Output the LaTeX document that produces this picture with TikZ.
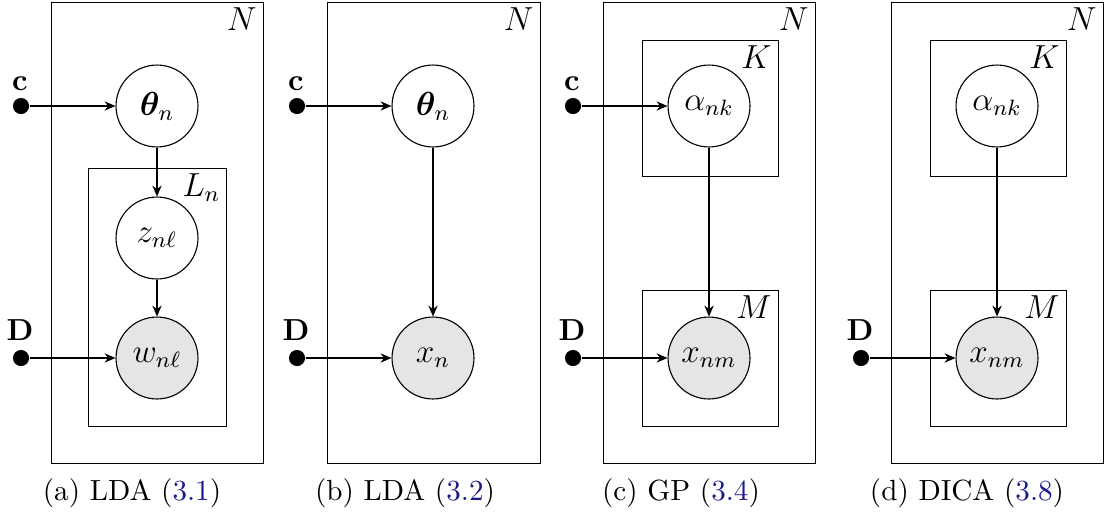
\documentclass[tikz,border=0pt]{standalone}
\usepackage{amsmath}
\usepackage{bm}
\usetikzlibrary{arrows.meta}
\definecolor{refblue}{RGB}{25,25,140}
\definecolor{obsgray}{RGB}{229,229,229}
\begin{document}
\begin{tikzpicture}[x=0.36pt,y=-0.36pt,
 plate/.style={draw, line width=0.35pt},
 latent/.style={circle, draw, minimum size=29.5pt, inner sep=0pt, line width=0.4pt, font=\large},
 obs/.style={latent, fill=obsgray},
 hyper/.style={circle, fill=black, minimum size=5.8pt, inner sep=0pt},
 edge/.style={-{Stealth[length=3.9pt,width=3.3pt]}, line width=0.65pt},
 lbl/.style={inner sep=0pt, anchor=north east, font=\large},
 txt/.style={inner sep=0pt, font=\fontsize{10.6}{12}\selectfont},
 captxt/.style={inner sep=0pt, font=\fontsize{10.5}{12}\selectfont}]
\useasboundingbox (0,0) rectangle (1105,515);

% ---------- (a) ----------
\draw[plate] (51,2) rectangle (263,463);
\node[lbl] (Na) at (257,7) {$N$};
\draw[plate] (88,168) rectangle (226,426);
\node[lbl] (La) at (221,173) {$L_n$};
\node[latent] (tha) at (157,106) {$\bm{\theta}_n$};
\node[latent] (za) at (157,238) {$z_{n\ell}$};
\node[obs] (wa) at (157,358) {$w_{n\ell}$};
\node[hyper] (ca) at (21,106) {};
\node[txt] (cla) at (20,84) {$\mathbf{c}$};
\node[hyper] (Da) at (21,358) {};
\node[txt] (Dla) at (20,330) {$\mathbf{D}$};
\draw[edge] (ca) -- (tha);
\draw[edge] (tha) -- (za);
\draw[edge] (za) -- (wa);
\draw[edge] (Da) -- (wa);
\node[captxt] (capa) at (132,493) {(a) LDA (\textcolor{refblue}{3.1})};

% ---------- (b) ----------
\draw[plate] (327,2) rectangle (540,463);
\node[lbl] (Nb) at (534,7) {$N$};
\node[latent] (thb) at (433,106) {$\bm{\theta}_n$};
\node[obs] (xb) at (433,358) {$x_n$};
\node[hyper] (cb) at (297,106) {};
\node[txt] (clb) at (296,84) {$\mathbf{c}$};
\node[hyper] (Db) at (297,358) {};
\node[txt] (Dlb) at (296,330) {$\mathbf{D}$};
\draw[edge] (cb) -- (thb);
\draw[edge] (thb) -- (xb);
\draw[edge] (Db) -- (xb);
\node[captxt] (capb) at (405,493) {(b) LDA (\textcolor{refblue}{3.2})};

% ---------- (c) ----------
\draw[plate] (603,2) rectangle (815,463);
\node[lbl] (Nc) at (809,7) {$N$};
\draw[plate] (642,40) rectangle (778,176);
\node[lbl] (Kc) at (772,45) {$K$};
\draw[plate] (642,290) rectangle (778,426);
\node[lbl] (Mc) at (772,295) {$M$};
\node[latent] (ac) at (709,106) {$\alpha_{nk}$};
\node[obs] (xc) at (709,358) {$x_{nm}$};
\node[hyper] (cc) at (573,106) {};
\node[txt] (clc) at (572,84) {$\mathbf{c}$};
\node[hyper] (Dc) at (573,358) {};
\node[txt] (Dlc) at (572,330) {$\mathbf{D}$};
\draw[edge] (cc) -- (ac);
\draw[edge] (ac) -- (xc);
\draw[edge] (Dc) -- (xc);
\node[captxt] (capc) at (681,493) {(c) GP (\textcolor{refblue}{3.4})};

% ---------- (d) ----------
\draw[plate] (891,2) rectangle (1103,463);
\node[lbl] (Nd) at (1097,7) {$N$};
\draw[plate] (930,40) rectangle (1066,176);
\node[lbl] (Kd) at (1060,45) {$K$};
\draw[plate] (930,290) rectangle (1066,426);
\node[lbl] (Md) at (1060,295) {$M$};
\node[latent] (ad) at (997,106) {$\alpha_{nk}$};
\node[obs] (xd) at (997,358) {$x_{nm}$};
\node[hyper] (Dd) at (861,358) {};
\node[txt] (Dld) at (860,330) {$\mathbf{D}$};
\draw[edge] (ad) -- (xd);
\draw[edge] (Dd) -- (xd);
\node[captxt] (capd) at (967,493) {(d) DICA (\textcolor{refblue}{3.8})};
\end{tikzpicture}
\end{document}
